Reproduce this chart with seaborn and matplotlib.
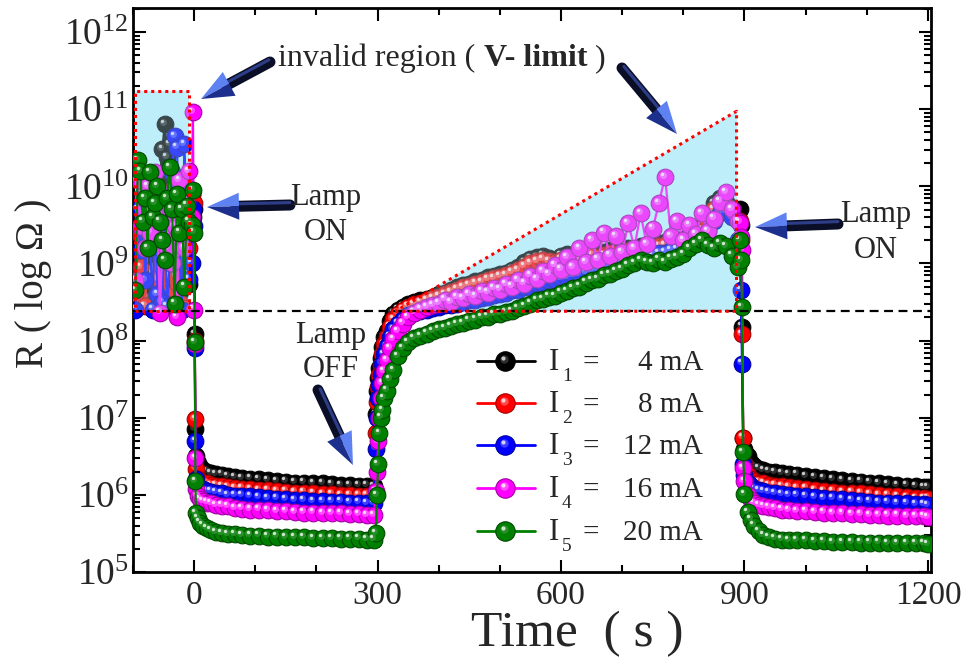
import numpy as np
import pandas as pd
import matplotlib
matplotlib.use("Agg")
import matplotlib.pyplot as plt
import seaborn as sns
from matplotlib.transforms import Affine2D, offset_copy
from matplotlib.lines import Line2D
from matplotlib.patches import Polygon
from matplotlib.ticker import (FixedLocator, MultipleLocator, LogLocator,
                               LogFormatterMathtext, NullFormatter)

W, H, DPI = 961, 661, 100

# ---------------------------------------------------------------- data
# sampling times (s) of each measurement phase
t_on1 = [-96, -92, -88, -84, -80, -76, -72, -68, -64, -60, -56, -52, -48,
         -44, -40, -36, -32, -28, -24, -20, -16, -12, -8, -4, -2]
t_fall1 = [0, 1, 2, 3]
t_dark1 = [6, 10, 15, 21, 28, 36, 45, 55, 66, 78, 92, 106, 120, 135, 150,
           165, 180, 195, 210, 225, 240, 255, 270, 283, 294]
t_rise = [297, 299, 301, 303, 305, 308, 311, 315, 320, 326, 333, 341, 350,
          360, 370, 380, 390,
          400, 410, 420, 430, 440, 450, 460, 470, 480, 490,
          500, 510, 520, 530, 540, 550, 560, 570, 580, 590,
          600, 610, 620, 630, 640, 650, 660, 670, 680, 690,
          700, 710, 720, 730, 740, 750, 760, 770, 780, 790,
          800, 810, 820, 830, 840, 850, 860, 870, 880, 890]
t_fall2 = [892, 894, 896, 898, 900]
t_dark2 = [905, 910, 916, 923, 931, 940, 950, 961, 973, 986, 1000, 1015,
           1030, 1045, 1060, 1075, 1090, 1105, 1120, 1135, 1150, 1165, 1180,
           1193, 1200]
time_s = t_on1 + t_fall1 + t_dark1 + t_rise + t_fall2 + t_dark2

# log10(R / Ohm) for each drive current, phase by phase:
# lamp on (V-limited) | lamp off at t=0 | dark decay | lamp on again |
# lamp off at t~895 | dark decay
logR_I1 = [
    8.48, 9.30, 8.78, 9.60, 9.08, 8.55, 9.90, 9.20, 8.70, 9.55, 10.10, 10.48, 10.81,
    10.38, 10.55, 9.40, 8.72, 9.10, 8.60, 9.75, 10.00, 9.48, 8.74, 9.90, 9.60,
    9.70, 8.08, 6.85, 6.50,
    6.41, 6.36, 6.32, 6.30, 6.28, 6.27, 6.26, 6.24, 6.23, 6.22, 6.21, 6.20, 6.19,
    6.18, 6.17, 6.16, 6.16, 6.15, 6.15, 6.14, 6.13, 6.13, 6.12, 6.12, 6.11,
    7.05, 7.35, 7.52, 7.65, 7.78, 7.92, 8.05, 8.13, 8.26, 8.35, 8.40, 8.44, 8.47,
    8.50, 8.52, 8.54, 8.57,
    8.60, 8.62, 8.66, 8.69, 8.72, 8.74, 8.77, 8.78, 8.82, 8.84,
    8.86, 8.88, 8.92, 8.95, 9.02, 9.06, 9.08, 9.10, 9.07, 9.05,
    9.10, 9.12, 9.10, 9.08, 9.12, 9.14, 9.12, 9.15, 9.17, 9.15,
    9.18, 9.20, 9.18, 9.22, 9.24, 9.22, 9.25, 9.28, 9.26, 9.30,
    9.32, 9.35, 9.40, 9.48, 9.60, 9.78, 9.85, 9.80, 9.72, 9.60,
    9.70, 9.50, 8.18, 6.74, 6.60,
    6.50, 6.41, 6.37, 6.34, 6.32, 6.30, 6.29, 6.28, 6.27, 6.26, 6.24, 6.23, 6.22,
    6.20, 6.19, 6.18, 6.17, 6.16, 6.15, 6.14, 6.13, 6.12, 6.11, 6.10, 6.10,
]
logR_I2 = [
    8.54, 9.40, 8.95, 9.70, 8.45, 9.30, 10.08, 9.50, 8.80, 9.60, 9.95, 9.18, 8.60,
    9.78, 9.30, 8.48, 9.05, 9.90, 8.50, 9.45, 8.42, 9.70, 9.20, 9.90, 9.78,
    9.78, 8.00, 6.98, 6.34,
    6.20, 6.18, 6.16, 6.15, 6.13, 6.12, 6.11, 6.10, 6.09, 6.08, 6.07, 6.06, 6.06,
    6.05, 6.04, 6.03, 6.03, 6.02, 6.01, 6.01, 6.00, 6.00, 5.99, 5.99, 5.99,
    6.80, 7.20, 7.40, 7.55, 7.68, 7.82, 7.95, 8.05, 8.18, 8.28, 8.35, 8.40, 8.44,
    8.47, 8.49, 8.52, 8.55,
    8.57, 8.60, 8.63, 8.66, 8.69, 8.71, 8.74, 8.76, 8.79, 8.81,
    8.83, 8.85, 8.88, 8.91, 8.96, 9.00, 9.03, 9.05, 9.03, 9.02,
    9.05, 9.07, 9.06, 9.05, 9.08, 9.10, 9.09, 9.11, 9.13, 9.12,
    9.14, 9.16, 9.15, 9.18, 9.20, 9.19, 9.22, 9.24, 9.23, 9.27,
    9.29, 9.32, 9.36, 9.43, 9.55, 9.70, 9.78, 9.74, 9.66, 9.55,
    9.55, 9.30, 8.08, 6.74, 6.40,
    6.26, 6.20, 6.18, 6.16, 6.15, 6.13, 6.12, 6.11, 6.10, 6.09, 6.08, 6.06, 6.05,
    6.04, 6.03, 6.03, 6.02, 6.01, 6.00, 5.99, 5.98, 5.97, 5.96, 5.96, 5.95,
]
logR_I3 = [
    8.40, 9.70, 9.18, 9.90, 8.78, 9.55, 9.30, 8.40, 9.78, 8.60, 9.20, 8.50, 9.60,
    8.45, 9.00, 10.18, 10.65, 10.50, 9.20, 8.40, 10.55, 9.54, 8.80, 9.00, 9.70,
    9.48, 7.90, 6.70, 6.20,
    6.11, 6.09, 6.07, 6.05, 6.04, 6.03, 6.02, 6.00, 5.99, 5.99, 5.98, 5.97, 5.96,
    5.95, 5.94, 5.93, 5.93, 5.92, 5.92, 5.91, 5.91, 5.90, 5.90, 5.89, 5.89,
    6.60, 7.00, 7.25, 7.42, 7.56, 7.70, 7.82, 7.93, 8.05, 8.15, 8.22, 8.28, 8.33,
    8.36, 8.38, 8.40, 8.42,
    8.44, 8.46, 8.46, 8.48, 8.50, 8.52, 8.53, 8.55, 8.56, 8.59,
    8.60, 8.62, 8.65, 8.66, 8.69, 8.70, 8.73, 8.74, 8.77, 8.78,
    8.81, 8.82, 8.85, 8.86, 8.89, 8.90, 8.93, 8.94, 8.97, 8.98,
    9.01, 9.02, 9.05, 9.06, 9.09, 9.10, 9.13, 9.14, 9.17, 9.18,
    9.21, 9.24, 9.28, 9.33, 9.42, 9.55, 9.66, 9.68, 9.60, 9.30,
    9.10, 8.65, 7.70, 6.40, 6.26,
    6.15, 6.11, 6.08, 6.06, 6.05, 6.03, 6.02, 6.01, 6.00, 5.99, 5.98, 5.97, 5.96,
    5.95, 5.94, 5.93, 5.92, 5.91, 5.90, 5.90, 5.89, 5.89, 5.88, 5.88, 5.87,
]
logR_I4 = [
    8.78, 10.08, 9.48, 9.85, 9.20, 10.00, 9.40, 9.70, 10.18, 9.60, 8.36, 9.30, 9.90,
    9.20, 9.70, 9.00, 9.48, 8.30, 10.08, 9.50, 9.20, 9.80, 10.20, 9.60, 10.96,
    8.40, 7.95, 6.48, 6.08,
    5.98, 5.94, 5.92, 5.90, 5.89, 5.87, 5.86, 5.85, 5.83, 5.82, 5.81, 5.81, 5.80,
    5.79, 5.79, 5.78, 5.77, 5.77, 5.76, 5.76, 5.76, 5.75, 5.75, 5.74, 5.74,
    6.05, 6.30, 6.70, 7.00, 7.25, 7.45, 7.60, 7.75, 7.90, 8.02, 8.12, 8.22, 8.30,
    8.36, 8.40, 8.43, 8.46,
    8.48, 8.53, 8.50, 8.56, 8.55, 8.60, 8.58, 8.64, 8.62, 8.68,
    8.66, 8.73, 8.70, 8.78, 8.74, 8.84, 8.80, 8.90, 8.86, 8.98,
    8.92, 9.08, 8.95, 9.20, 9.02, 9.30, 9.05, 9.40, 9.10, 9.35,
    9.15, 9.52, 9.20, 9.65, 9.25, 9.45, 9.78, 10.12, 9.35, 9.55,
    9.30, 9.50, 9.38, 9.65, 9.42, 9.58, 9.80, 9.92, 9.70, 9.55,
    9.53, 9.34, 9.17, 6.35, 6.18,
    6.00, 5.93, 5.89, 5.87, 5.85, 5.84, 5.83, 5.81, 5.80, 5.79, 5.79, 5.78, 5.77,
    5.76, 5.76, 5.75, 5.75, 5.74, 5.74, 5.73, 5.73, 5.72, 5.72, 5.72, 5.71,
]
logR_I5 = [
    8.65, 10.34, 10.20, 9.54, 9.85, 9.20, 10.18, 9.60, 9.78, 10.00, 9.54, 9.30, 9.04,
    9.85, 10.25, 9.70, 8.48, 9.90, 9.40, 9.70, 8.70, 9.75, 9.54, 9.50, 9.95,
    9.40, 7.98, 6.18, 5.76,
    5.70, 5.64, 5.60, 5.57, 5.54, 5.52, 5.50, 5.49, 5.49, 5.48, 5.47, 5.47, 5.46,
    5.46, 5.45, 5.45, 5.45, 5.44, 5.44, 5.44, 5.43, 5.43, 5.43, 5.42, 5.42,
    5.50, 6.00, 6.40, 6.80, 7.00, 7.10, 7.25, 7.35, 7.50, 7.62, 7.80, 7.90, 7.98,
    8.03, 8.06, 8.09, 8.12,
    8.15, 8.16, 8.19, 8.21, 8.23, 8.26, 8.27, 8.30, 8.31, 8.34,
    8.35, 8.37, 8.38, 8.42, 8.45, 8.48, 8.52, 8.54, 8.57, 8.58,
    8.62, 8.64, 8.68, 8.70, 8.75, 8.78, 8.80, 8.85, 8.86, 8.90,
    8.93, 8.98, 9.00, 9.04, 9.02, 9.00, 9.05, 9.02, 9.06, 9.08,
    9.12, 9.20, 9.25, 9.30, 9.24, 9.20, 9.26, 9.22, 9.10, 8.95,
    9.30, 9.04, 8.43, 6.55, 6.01,
    5.78, 5.68, 5.60, 5.53, 5.48, 5.45, 5.43, 5.42, 5.41, 5.41, 5.41, 5.40, 5.40,
    5.39, 5.39, 5.39, 5.38, 5.38, 5.38, 5.37, 5.37, 5.37, 5.37, 5.37, 5.36,
]

currents_mA = [4, 8, 12, 16, 20]
series_logR = [logR_I1, logR_I2, logR_I3, logR_I4, logR_I5]
y_decades = [1e5, 1e6, 1e7, 1e8, 1e9, 1e10, 1e11, 1e12]

# voltage-limit threshold and the invalid (V-limited) regions
R_limit = 2.4e8
rect_t = (-97, -8)
rect_R_top = 1.7e11
tri_t = (329, 887)
tri_R_top = 9.4e10

# ---------------------------------------------------------------- style
sns.set_style("ticks")
plt.rcParams["font.family"] = ["Liberation Serif", "DejaVu Serif"]
plt.rcParams["mathtext.fontset"] = "custom"
plt.rcParams["mathtext.rm"] = "Liberation Serif"
plt.rcParams["mathtext.it"] = "Liberation Serif:italic"
plt.rcParams["mathtext.bf"] = "Liberation Serif:bold"

colors = ["#000000", "#ff0000", "#0000ff", "#ff00ff", "#008000"]
edges = ["#000000", "#a00000", "#0000a0", "#a000a0", "#004800"]
mids = ["#2e2e2e", "#ff4a4a", "#3d3dff", "#ff4dff", "#2a8f2a"]
shines = ["#c8c8c8", "#ffd0d0", "#d0d0ff", "#ffd8ff", "#cfe8cf"]
zorders = [3, 4, 5, 6, 7]
CYAN = "#bdeefa"

df = pd.concat([
    pd.DataFrame({"time": time_s, "logR": lr, "current": f"{c} mA"})
    for c, lr in zip(currents_mA, series_logR)
], ignore_index=True)
df["R"] = 10.0 ** df["logR"]

fig = plt.figure(figsize=(W / DPI, H / DPI), dpi=DPI)
ax = fig.add_axes([133 / W, 1 - 572 / H, (931 - 133) / W, (572 - 8) / H])
ax.set_yscale("log")
ax.set_xlim(-100, 1205)
ax.set_ylim(1e5, 2.05e12)

# pixel frame (origin top-left) for annotations
PX = Affine2D().scale(1, -1).translate(0, H)

# shaded V-limit regions (background layer)
rect_x = [rect_t[0], rect_t[1], rect_t[1], rect_t[0]]
rect_y = [R_limit, R_limit, rect_R_top, rect_R_top]
tri_x = [tri_t[0], tri_t[1], tri_t[1]]
tri_y = [R_limit, R_limit, tri_R_top]
for xs, ys in ((rect_x, rect_y), (tri_x, tri_y)):
    ax.fill(xs, ys, color=CYAN, lw=0, zorder=1)


def shine(x, y, ms, mid, hi, z):
    """Glossy highlight that makes a round marker look like a ball."""
    t1 = offset_copy(ax.transData, fig=fig, x=-ms * 0.12, y=ms * 0.14, units="points")
    t2 = offset_copy(ax.transData, fig=fig, x=-ms * 0.17, y=ms * 0.2, units="points")
    ax.plot(x, y, ls="none", marker="o", ms=ms * 0.42, mfc=mid, mec="none",
            transform=t1, zorder=z + 0.01)
    ax.plot(x, y, ls="none", marker="o", ms=ms * 0.2, mfc=hi, mec="none",
            transform=t2, zorder=z + 0.02)


MS = 12
for i, c in enumerate(currents_mA):
    d = df[df["current"] == f"{c} mA"]
    sns.lineplot(data=d, x="time", y="R", ax=ax, color=colors[i], lw=1.6,
                 marker="o", markersize=MS, mec=edges[i], mew=0.8,
                 sort=False, estimator=None, legend=False, zorder=zorders[i])
    shine(d["time"], d["R"], MS, mids[i], shines[i], zorders[i])
    if i == 3:
        # translucent wash of the invalid regions over the lower series
        for xs, ys in ((rect_x, rect_y), (tri_x, tri_y)):
            ax.fill(xs, ys, color=CYAN, alpha=0.3, lw=0, zorder=6.5)

# region outlines and the limit line
ax.plot(rect_x + [rect_x[0]], rect_y + [rect_y[0]], color="red", lw=2.2,
        ls=(0, (1, 1.3)), dash_capstyle="butt", zorder=9)
ax.plot(tri_x + [tri_x[0]], tri_y + [tri_y[0]], color="red", lw=2.2,
        ls=(0, (1, 1.3)), dash_capstyle="butt", zorder=9)
ax.axhline(R_limit, color="black", lw=1.6, ls=(0, (4, 2.5)), zorder=8.5)

# ---------------------------------------------------------------- axes
ax.set_xticks([0, 300, 600, 900, 1200])
ax.xaxis.set_minor_locator(MultipleLocator(100))
ax.yaxis.set_major_locator(FixedLocator(y_decades))
ax.yaxis.set_minor_locator(LogLocator(base=10, subs=np.arange(2, 10), numticks=20))
ax.yaxis.set_major_formatter(LogFormatterMathtext())
ax.yaxis.set_minor_formatter(NullFormatter())
ax.tick_params(which="both", direction="in", top=True, right=True, width=1.5, color="black")
ax.tick_params(which="major", length=9)
ax.tick_params(which="minor", length=5)
ax.tick_params(axis="x", labelsize=24, pad=6)
ax.tick_params(axis="y", labelsize=27, pad=3)
for s in ax.spines.values():
    s.set_linewidth(2)
    s.set_color("black")
ax.grid(False)

ax.set_xlabel("Time  ( s )", fontsize=37)
ax.set_ylabel("R ( log Ω )", fontsize=28)
ax.xaxis.set_label_coords((577 - 133) / 798, (572 - 634) / 564)
ax.xaxis.label.set_va("center")
ax.yaxis.set_label_coords((33 - 133) / 798, (572 - 283) / 564)
ax.yaxis.label.set_va("center")


# ---------------------------------------------------------------- arrows
def arrow3d(tail, tip, hl=32, hw=27, sw=11):
    tail = np.asarray(tail, float)
    tip = np.asarray(tip, float)
    u = tip - tail
    u /= np.hypot(*u)
    n = np.array([-u[1], u[0]])
    base = tip - u * hl
    end = base + u * 3
    fig.add_artist(Line2D([tail[0], end[0]], [tail[1], end[1]], lw=sw * 72 / DPI,
                          color="#0a0e26", solid_capstyle="round", transform=PX, zorder=20))
    up = n if n[1] < 0 else -n
    s0 = tail + up * sw * 0.22
    s1 = end + up * sw * 0.22
    fig.add_artist(Line2D([s0[0], s1[0]], [s0[1], s1[1]], lw=sw * 0.28 * 72 / DPI,
                          color="#3a4ea8", alpha=0.75, solid_capstyle="round",
                          transform=PX, zorder=20.1))
    fig.add_artist(Polygon([tip, base + up * hw / 2, base], closed=True, fc="#5f82f2",
                           ec="none", transform=PX, zorder=20.2))
    fig.add_artist(Polygon([tip, base, base - up * hw / 2], closed=True, fc="#1d2f8c",
                           ec="none", transform=PX, zorder=20.2))


arrow3d((270, 62), (201, 99))
arrow3d((290, 205), (207, 207))
arrow3d((318, 390), (353, 465))
arrow3d((622, 68), (677, 134))
arrow3d((838, 224), (755, 227))


# ---------------------------------------------------------------- annotations
def label_px(x, y, s, size=22, ha="center", weight="normal"):
    return fig.text(x, y, s, transform=PX, fontsize=size, ha=ha, va="baseline",
                    fontweight=weight, zorder=21)


label_px(326, 205, "Lamp")
label_px(326, 240, "ON")
label_px(331, 343, "Lamp")
label_px(331, 377, "OFF")
label_px(876, 222, "Lamp")
label_px(876, 258, "ON")

renderer = fig.canvas.get_renderer()
t_a = label_px(278, 66, "invalid region (", size=23, ha="left")
x_next = t_a.get_window_extent(renderer).x1 + 9
t_b = label_px(x_next, 66, "V- limit", size=23, ha="left", weight="bold")
x_next = t_b.get_window_extent(renderer).x1 + 7
label_px(x_next, 66, ")", size=23, ha="left")

# ---------------------------------------------------------------- legend
row_y = [361, 403, 445, 488, 531]
for i, c in enumerate(currents_mA):
    y = row_y[i]
    fig.add_artist(Line2D([477, 535], [y, y], color=colors[i], lw=2, transform=PX, zorder=22))
    fig.add_artist(Line2D([505], [y], ls="none", marker="o", ms=14, mfc=colors[i],
                          mec=edges[i], mew=0.8, transform=PX, zorder=22.1))
    fig.add_artist(Line2D([503.5], [y - 2], ls="none", marker="o", ms=6, mfc=mids[i],
                          mec="none", transform=PX, zorder=22.2))
    fig.add_artist(Line2D([502.5], [y - 3], ls="none", marker="o", ms=3, mfc=shines[i],
                          mec="none", transform=PX, zorder=22.3))
    label_px(549, y + 9, "I", size=22, ha="left")
    label_px(562, y + 20, str(i + 1), size=14, ha="left")
    label_px(591, y + 9, "=", size=21)
    label_px(703, y + 9, f"{c} mA", size=21, ha="right")

fig.savefig("out.png", dpi=DPI)
